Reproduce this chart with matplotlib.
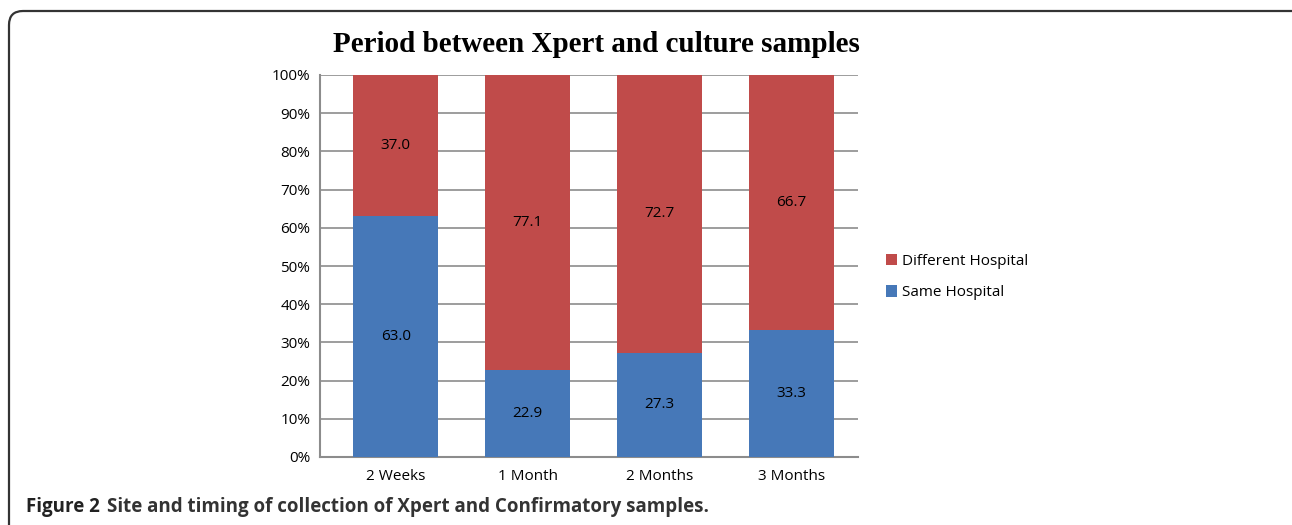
import matplotlib.pyplot as plt
from matplotlib.patches import FancyBboxPatch
from matplotlib.transforms import IdentityTransform

# Data
periods = ["2 Weeks", "1 Month", "2 Months", "3 Months"]
same_hospital = [63.0, 22.9, 27.3, 33.3]
different_hospital = [37.0, 77.1, 72.7, 66.7]

blue = "#4678B8"
red = "#C04B4A"
grid_col = "#8C8C8C"

fig = plt.figure(figsize=(12.92, 5.25), dpi=100)
W, H = 1292, 525

# rounded frame around the figure (pixel coordinates)
frame = FancyBboxPatch((9, -40), 1400, H - 11 + 40,
                       boxstyle="round,pad=0,rounding_size=14",
                       transform=IdentityTransform(), fill=False,
                       edgecolor="#333333", linewidth=1.6, clip_on=False)
fig.patches.append(frame)

ax = fig.add_axes([320 / W, 1 - 457 / H, 538 / W, (457 - 75) / H])
x = list(range(len(periods)))
width = 0.644
fs = 11

ax.bar(x, same_hospital, width, color=blue, label="Same Hospital", zorder=3)
ax.bar(x, different_hospital, width, bottom=same_hospital, color=red,
       label="Different Hospital", zorder=3)

for i in x:
    ax.text(i, same_hospital[i] / 2, f"{same_hospital[i]:.1f}", ha="center",
            va="center", fontsize=fs, family="Open Sans", zorder=4)
    ax.text(i, same_hospital[i] + different_hospital[i] / 2,
            f"{different_hospital[i]:.1f}", ha="center", va="center",
            fontsize=fs, family="Open Sans", zorder=4)

ax.set_xlim(-0.573, 3.503)
ax.set_ylim(0, 100)
ax.set_yticks(range(0, 101, 10))
ax.set_yticklabels([f"{v}%" for v in range(0, 101, 10)], family="Open Sans",
                   fontsize=fs)
ax.set_xticks(x)
ax.set_xticklabels(periods, family="Open Sans", fontsize=fs)
ax.tick_params(axis="both", length=0)
ax.tick_params(axis="y", pad=7)
ax.tick_params(axis="x", pad=9)
ax.grid(axis="y", color=grid_col, linewidth=1.2, zorder=0)
for s in ["top", "right"]:
    ax.spines[s].set_visible(False)
for s in ["left", "bottom"]:
    ax.spines[s].set_color(grid_col)
    ax.spines[s].set_linewidth(1.5)

fig.text(596 / W, 1 - 44 / H, "Period between Xpert and culture samples",
         ha="center", va="center", fontsize=21, fontweight="bold",
         family="Liberation Serif")

handles, labels = ax.get_legend_handles_labels()
ax.legend(handles[::-1], labels[::-1], loc="center left",
          bbox_to_anchor=(872 / W, 1 - 277 / H), bbox_transform=fig.transFigure,
          frameon=False, prop={"family": "Open Sans", "size": fs},
          handlelength=0.75, handleheight=0.75, handletextpad=0.3,
          labelspacing=1.1)

fig.text(26 / W, 1 - 507 / H, "Figure 2", ha="left", va="center",
         fontsize=13.5, fontweight="bold", family="Open Sans", color="#222222")
fig.text(107 / W, 1 - 507 / H,
         "Site and timing of collection of Xpert and Confirmatory samples.",
         ha="left", va="center", fontsize=13.5, fontweight="bold",
         family="Open Sans", color="#333333")

fig.savefig("out.png", dpi=100)
